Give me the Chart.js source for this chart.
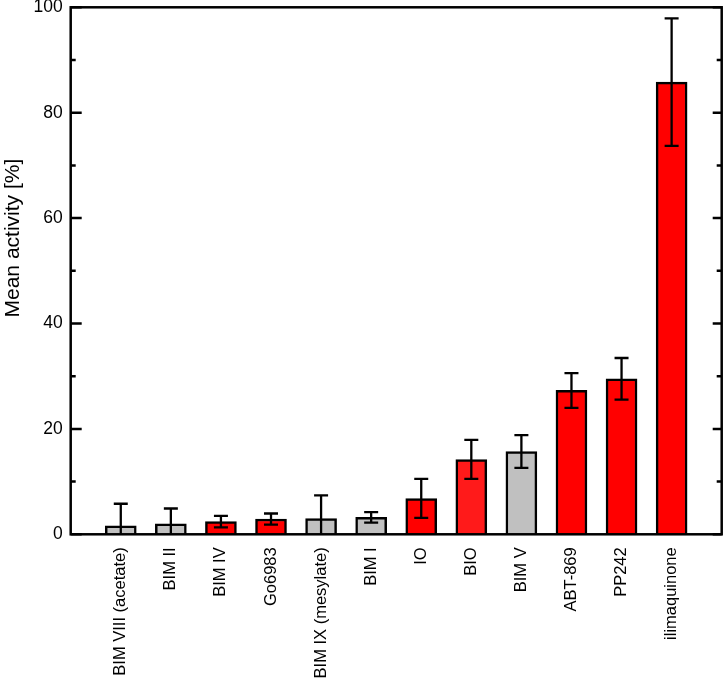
<!DOCTYPE html>
<html>
<head>
<meta charset="utf-8">
<script src="https://cdn.jsdelivr.net/npm/chart.js@4/dist/chart.umd.min.js"></script>
<style>
html,body{margin:0;padding:0;background:#fff;}
#wrap{width:727px;height:679px;position:relative;}
</style>
</head>
<body>
<div id="wrap"><canvas id="c" width="727" height="679"></canvas></div>
<script>
const categories = ['BIM VIII (acetate)','BIM II','BIM IV','Go6983','BIM IX (mesylate)','BIM I','IO','BIO','BIM V','ABT-869','PP242','ilimaquinone'];
const meanActivity = [1.6, 2.0, 2.4, 2.9, 3.0, 3.2, 6.8, 14.2, 15.7, 27.3, 29.5, 85.8];
const errorValues = [4.2, 2.9, 1.1, 1.05, 4.4, 1.0, 3.7, 3.7, 3.1, 3.3, 3.95, 12.1];
const barColors = ['#c0c0c0','#c0c0c0','#ff0000','#ff0000','#c0c0c0','#c0c0c0','#ff0000','#ff1a1a','#c0c0c0','#ff0000','#ff0000','#ff0000'];
const yTicks = [0, 20, 40, 60, 80, 100];
const yMinorTicks = [10, 30, 50, 70, 90];
const yTitle = 'Mean activity [%]';

const labels = [''].concat(categories, ['']);
const data = [null].concat(meanActivity, [null]);
const errs = [null].concat(errorValues, [null]);
const colors = ['#fff'].concat(barColors, ['#fff']);

const FONT = '"Liberation Sans", Arial, Helvetica, sans-serif';

const framePlugin = {
  id: 'frame',
  afterDatasetsDraw(chart) {
    const ctx = chart.ctx;
    const y = chart.scales.y;
    const meta = chart.getDatasetMeta(0);
    const a = chart.chartArea;
    ctx.save();
    ctx.strokeStyle = '#000';
    ctx.lineWidth = 2.3;
    ctx.beginPath();
    ctx.rect(a.left, a.top, a.right - a.left, a.bottom - a.top);
    ctx.save();
    ctx.clip();
    meta.data.forEach((el, i) => {
      if (data[i] === null) return;
      const cx = el.x;
      const hi = y.getPixelForValue(data[i] + errs[i]);
      const lo = y.getPixelForValue(data[i] - errs[i]);
      ctx.beginPath();
      ctx.moveTo(cx, hi); ctx.lineTo(cx, lo);
      ctx.moveTo(cx - 7, hi); ctx.lineTo(cx + 7, hi);
      ctx.moveTo(cx - 7, lo); ctx.lineTo(cx + 7, lo);
      ctx.stroke();
    });
    ctx.restore();
    ctx.lineWidth = 2.5;
    ctx.strokeRect(a.left, a.top, a.right - a.left, a.bottom - a.top);
    ctx.beginPath();
    yTicks.forEach(v => {
      const py = y.getPixelForValue(v);
      ctx.moveTo(a.left, py); ctx.lineTo(a.left + 11, py);
      ctx.moveTo(a.right, py); ctx.lineTo(a.right - 9, py);
    });
    yMinorTicks.forEach(v => {
      const py = y.getPixelForValue(v);
      ctx.moveTo(a.left, py); ctx.lineTo(a.left + 5, py);
      ctx.moveTo(a.right, py); ctx.lineTo(a.right - 5, py);
    });
    ctx.stroke();
    // axis title
    ctx.translate(13, y.getPixelForValue(56.2));
    ctx.rotate(-Math.PI / 2);
    ctx.fillStyle = '#000';
    ctx.font = '21px ' + FONT;
    ctx.textAlign = 'center';
    ctx.textBaseline = 'middle';
    ctx.fillText(yTitle, 0, 0);
    ctx.restore();
  }
};

new Chart(document.getElementById('c'), {
  type: 'bar',
  data: {
    labels: labels,
    datasets: [{
      data: data,
      backgroundColor: colors,
      borderColor: '#000',
      borderWidth: 2.5,
      barThickness: 31
    }]
  },
  options: {
    responsive: false,
    animation: false,
    devicePixelRatio: 1,
    layout: { padding: { top: 7.3, right: 5.3, left: 0, bottom: 0 } },
    plugins: { legend: { display: false }, tooltip: { enabled: false } },
    scales: {
      x: {
        type: 'category',
        offset: false,
        grid: { display: false, drawTicks: false },
        border: { display: false },
        ticks: {
          autoSkip: false,
          maxRotation: 90,
          minRotation: 90,
          padding: 13,
          color: '#000',
          font: { family: FONT, size: 16.5 }
        },
        afterFit(scale) { scale.height = 679 - 534.3; scale.paddingLeft = 0; scale.paddingRight = 0; }
      },
      y: {
        min: 0,
        max: 100,
        grid: { display: false, drawTicks: false },
        border: { display: false },
        ticks: {
          stepSize: 20,
          padding: 8,
          color: '#000',
          font: { family: FONT, size: 17.5 }
        },
        title: { display: false },
        afterFit(scale) { scale.width = 70.7; scale.paddingTop = 0; scale.paddingBottom = 0; }
      }
    }
  },
  plugins: [framePlugin]
});
</script>
</body>
</html>
